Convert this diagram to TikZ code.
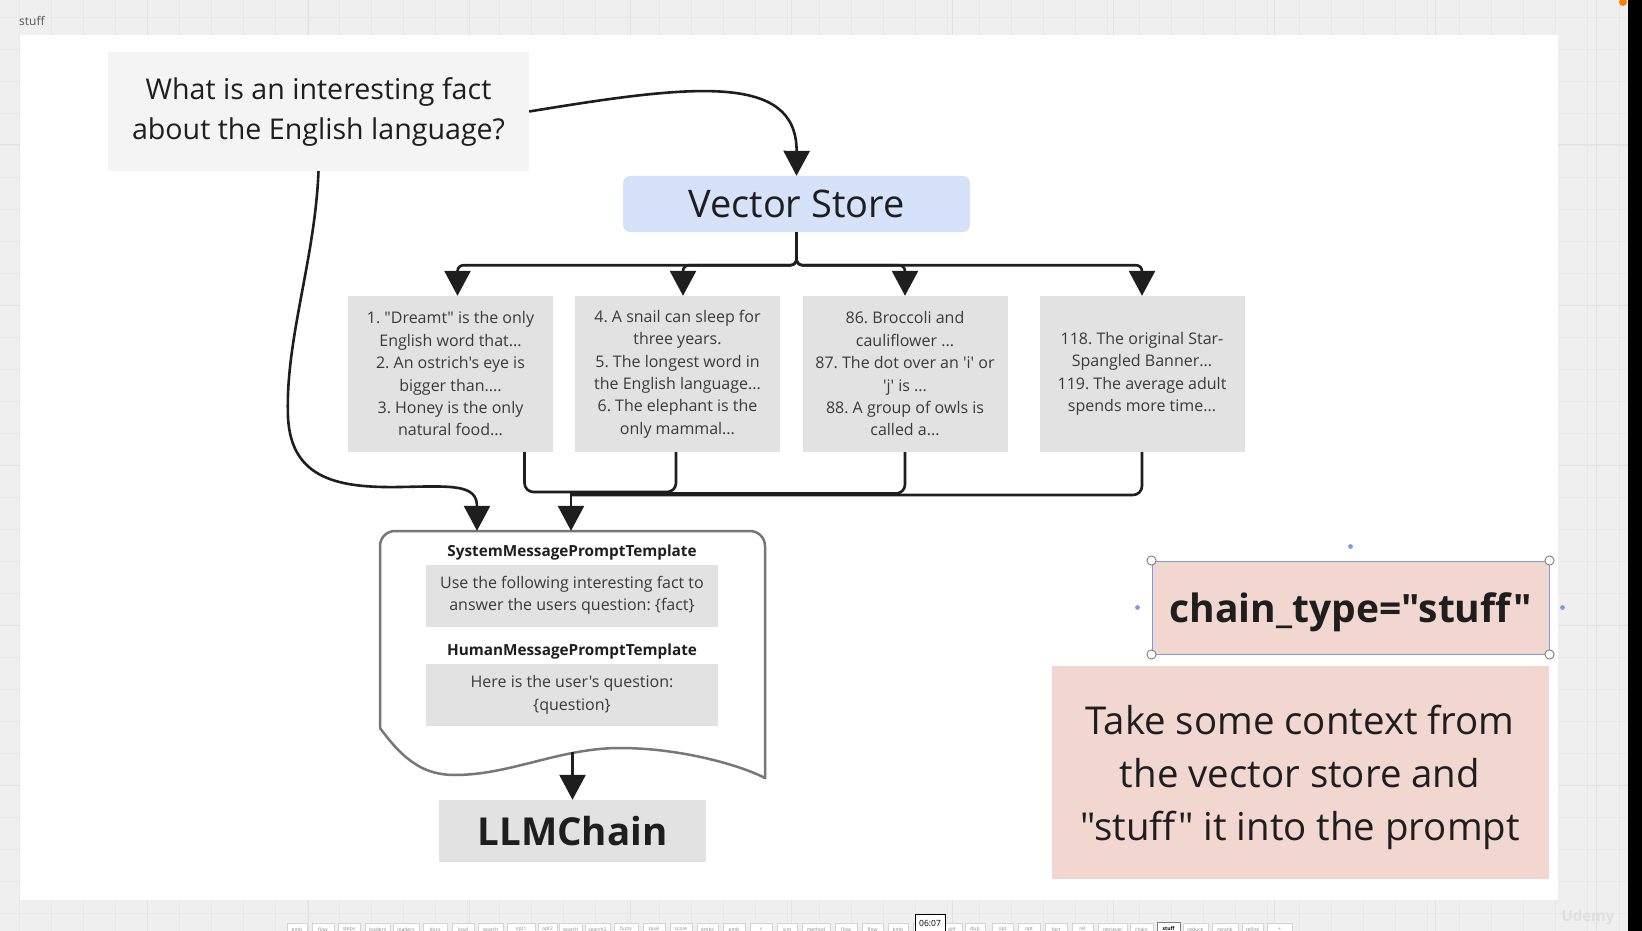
\documentclass[tikz,border=0pt]{standalone}
\usepackage{fontspec}
\setmainfont{Open Sans}[Ligatures=TeXOff]
\frenchspacing
\usetikzlibrary{arrows.meta}
\definecolor{bg}{HTML}{EFEFEF}
\definecolor{gridminor}{HTML}{E8E8E8}
\definecolor{gridmajor}{HTML}{E1E1E1}
\definecolor{qfill}{HTML}{F4F4F4}
\definecolor{factfill}{HTML}{E2E2E2}
\definecolor{vsfill}{HTML}{D5E2FA}
\definecolor{pinkfill}{HTML}{F2D7D0}
\definecolor{selblue}{HTML}{7C9BE6}
\definecolor{promptline}{HTML}{777777}
\definecolor{ink}{HTML}{1E1E1E}
\definecolor{facttext}{HTML}{3A3A3A}
\definecolor{labelgrey}{HTML}{555555}
\definecolor{tabtext}{HTML}{8A8A8A}
\definecolor{tabline}{HTML}{D4D4D4}
\tikzset{
  conn/.style={draw=ink, line width=2.6pt},
  arr/.style={conn, -{Triangle[width=26pt,length=25pt]}},
  qbox/.style={fill=qfill, minimum width=421pt, minimum height=119pt, align=center, inner sep=0pt, text=ink, font=\fontsize{28.6}{40}\selectfont},
  vsbox/.style={fill=vsfill, rounded corners=7pt, minimum width=347pt, minimum height=56pt, inner sep=0pt, text=ink, font=\fontsize{38}{44}\selectfont},
  factbox/.style={fill=factfill, minimum width=205pt, minimum height=156pt, align=center, inner sep=0pt, text=facttext, font=\fontsize{16}{22.4}\selectfont},
  inbox/.style={fill=factfill, minimum width=292pt, minimum height=62pt, align=center, inner sep=0pt, text=facttext, font=\fontsize{16}{22.5}\selectfont},
  lbl/.style={inner sep=0pt, text=ink, font=\bfseries\fontsize{15.3}{18}\selectfont},
  llmbox/.style={fill=factfill, minimum width=267pt, minimum height=62pt, inner sep=0pt, text=ink, font=\bfseries\fontsize{38.5}{44}\selectfont},
  ctbox/.style={fill=pinkfill, draw=selblue, line width=1pt, minimum width=397pt, minimum height=93pt, inner sep=0pt, text depth=0pt, text=ink, font=\bfseries\fontsize{39}{44}\selectfont},
  pinkbox/.style={fill=pinkfill, minimum width=497pt, minimum height=213pt, align=center, inner sep=0pt, text depth=0pt, text=ink, font=\fontsize{38.4}{53}\selectfont},
  handle/.style={fill=white, draw=gray, line width=0.9pt},
  tab/.style={fill=white, draw=tabline, line width=0.6pt, minimum height=12pt, inner sep=0pt, text=tabtext, font=\fontsize{5}{6}\selectfont, anchor=north},
}
\begin{document}
\begin{tikzpicture}[x=1pt,y=-1pt]
\useasboundingbox (0,0) rectangle (1642,931);
% board background and grid
\fill[bg] (0,0) rectangle (1642,931);
\foreach \x in {19,51,...,1630} \draw[gridminor, line width=0.8pt] (\x,0) -- (\x,931);
\foreach \y in {17,49,...,931} \draw[gridminor, line width=0.8pt] (0,\y) -- (1642,\y);
\foreach \x in {147,308,...,1630} \draw[gridmajor, line width=1pt] (\x,0) -- (\x,931);
\foreach \y in {145,305,...,931} \draw[gridmajor, line width=1pt] (0,\y) -- (1642,\y);
% frame
\fill[white] (20,35) rectangle (1558,900);
\node[anchor=west, inner sep=0pt, text=labelgrey, font=\fontsize{12}{14}\selectfont] (framelbl) at (19,21) {stuff};

% question and vector store
\node[qbox] (q) at (318.5,111.5) {What is an interesting fact\\about the English language?};
\node[vsbox] (vs) at (796.5,204) {Vector Store};

% fact boxes
\node[factbox] (f1) at (450.5,374) {1. "Dreamt" is the only\\English word that...\\2. An ostrich's eye is\\bigger than....\\3. Honey is the only\\natural food...};
\node[factbox] (f2) at (677.5,374) {4. A snail can sleep for\\three years.\\5. The longest word in\\the English language...\\6. The elephant is the\\only mammal...};
\node[factbox] (f3) at (905,374) {86. Broccoli and\\cauliflower ...\\87. The dot over an 'i' or\\'j' is ...\\88. A group of owls is\\called a...};
\node[factbox] (f4) at (1142,374) {118. The original Star-\\Spangled Banner...\\119. The average adult\\spends more time...};

% prompt document shape
\node[inner sep=0pt, minimum width=385pt, minimum height=247pt] (prompt) at (572.5,654.5) {};
\draw[promptline, line width=2.5pt, rounded corners=15pt] (380,729) -- (380,531) -- (765,531) -- (765,779);
\draw[promptline, line width=2.5pt] (380,728) .. controls (405,762) and (425,775) .. (455,775) .. controls (510,775) and (560,748) .. (620,748) .. controls (680,748) and (740,765) .. (765,778);
\node[lbl] (syslbl) at (572,553) {SystemMessagePromptTemplate};
\node[inbox] (sysbox) at (572,595.5) {Use the following interesting fact to\\answer the users question: \{fact\}};
\node[lbl] (humlbl) at (572,652) {HumanMessagePromptTemplate};
\node[inbox] (humbox) at (572,695) {Here is the user's question:\\\{question\}};

% LLMChain
\node[llmbox] (llm) at (572.5,831) {LLMChain};

% chain_type box with selection handles
\node[ctbox] (ct) at (1350.5,607.5) {chain\_type="stuff"};
\foreach \a in {north west, north east, south west, south east} \draw[handle] (ct.\a) circle (4.6pt);
\fill[selblue] ([yshift=14pt]ct.north) circle (2.4pt);
\fill[selblue] ([yshift=-14pt]ct.south) circle (2.4pt);
\fill[selblue] ([xshift=-14pt]ct.west) circle (2.4pt);
\fill[selblue] ([xshift=13pt]ct.east) circle (2.4pt);

% explanation box
\node[pinkbox] (ctx) at (1300,772.5) {Take some context from\\the vector store and\\"stuff" it into the prompt};

% connectors
\draw[arr] (q.east) .. controls (690,85) and (797,72) .. (vs.north);
\draw[arr] (q.south) .. controls (315,260) and (285,340) .. (288,417) .. controls (291,480) and (340,488) .. (400,487) .. controls (452,486) and (477,484) .. ([xshift=-95.5pt]prompt.north);
\draw[arr, rounded corners=6pt] (vs.south) -- ++(0,33) -| ([xshift=7pt]f1.north);
\draw[arr, rounded corners=6pt] (vs.south) -- ++(0,33) -| ([xshift=5.5pt]f2.north);
\draw[arr, rounded corners=6pt] (vs.south) -- ++(0,33) -| (f3.north);
\draw[arr, rounded corners=6pt] (vs.south) -- ++(0,33) -| (f4.north);
\coordinate (merge) at (571,492);
\draw[conn, rounded corners=9pt] ([xshift=74pt]f1.south) |- (merge);
\draw[conn, rounded corners=9pt] ([xshift=-1.5pt]f2.south) |- (merge);
\draw[conn, rounded corners=9pt] (f3.south) |- ([yshift=-1.5pt]merge);
\draw[conn, rounded corners=9pt] (f4.south) |- ([yshift=-3pt]merge);
\draw[arr] (merge) -- (merge |- prompt.north);
\draw[arr] ([yshift=26pt]prompt.south) -- (llm.north);

% screen furniture: right strip, tab bar, watermark
\fill[black] (1628,0) rectangle (1642,931);
\fill[orange] (1623,2) circle (4pt);
\foreach \c/\w/\t [count=\i] in {297/20/emb, 323/22/flow, 349/22/steps, 377.5/25/loaders, 406/26/loaders, 435/24/docs, 463/22/load, 490.5/25/search, 521/28/opt1, 547.5/19/opt2, 570.5/23/search, 597.5/25/search2, 626/24/fuzzy, 654/22/qual, 681/22/score, 707.5/21/embs, 734/22/emb, 761/22/v, 787/20/sim, 816/28/method, 846/22/flow, 872.5/21/flow, 898/20/emb, 926/26/{}, 952/20/diff, 975/20/dup, 1002.5/21/opt, 1029/22/opt, 1056/22/fact, 1082.5/21/ret, 1112.5/29/retriever, 1141.5/23/chain}
  \node[tab, minimum width=\w pt] (tab\i) at (\c,923) {\t};
\node[tab, minimum width=23pt, draw=gray, line width=1pt, text=black, font=\bfseries\fontsize{5}{6}\selectfont] (tabstuff) at (1168.5,922) {stuff};
\foreach \c/\w/\t [count=\i] in {1195.5/25/reduce, 1225/26/rerank, 1252.5/21/refine, 1279.5/25/+}
  \node[tab, minimum width=\w pt] (tabb\i) at (\c,923) {\t};
\node[fill=white, draw=black, line width=0.8pt, minimum width=30pt, minimum height=18pt, anchor=north, inner sep=0pt, font=\fontsize{8.5}{10}\selectfont] (clock) at (930,914) {06:07};
\node[inner sep=0pt, text=white!75!gray, font=\bfseries\fontsize{15}{18}\selectfont] (wm) at (1588,918) {Udemy};
\end{tikzpicture}
\end{document}
